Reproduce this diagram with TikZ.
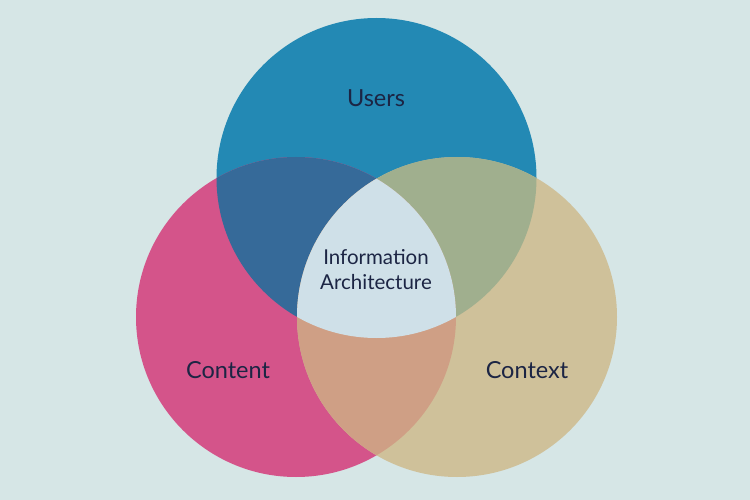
\documentclass[tikz,border=0pt]{standalone}
\usepackage{fontspec}
\setmainfont{Lato}
\definecolor{bgc}{HTML}{D6E6E6}
\definecolor{usersc}{HTML}{2389B4}
\definecolor{contentc}{HTML}{D4548A}
\definecolor{contextc}{HTML}{CFC19A}
\definecolor{ucon}{HTML}{366A99}
\definecolor{uctx}{HTML}{A0AF8E}
\definecolor{cc}{HTML}{CF9F85}
\definecolor{allc}{HTML}{CFE0E8}
\definecolor{txt}{HTML}{1C2544}
\begin{document}
\begin{tikzpicture}[x=1pt,y=-1pt,
  lbl/.style={text=txt,font=\fontsize{23.5}{26}\selectfont,inner sep=0pt},
  clbl/.style={text=txt,font=\fontsize{20.5}{25}\selectfont,inner sep=0pt,align=center}]
\fill[bgc] (0,0) rectangle (750,500);
\useasboundingbox (0,0) rectangle (750,500);
\coordinate (U) at (376.5,178);
\coordinate (L) at (296,317);
\coordinate (R) at (457,317);
\def\rr{160}
\fill[usersc] (U) circle[radius=\rr];
\fill[contentc] (L) circle[radius=\rr];
\fill[contextc] (R) circle[radius=\rr];
\begin{scope}
  \clip (U) circle[radius=\rr];
  \fill[ucon] (L) circle[radius=\rr];
  \fill[uctx] (R) circle[radius=\rr];
\end{scope}
\begin{scope}
  \clip (L) circle[radius=\rr];
  \fill[cc] (R) circle[radius=\rr];
  \clip (R) circle[radius=\rr];
  \fill[allc] (U) circle[radius=\rr];
\end{scope}
\node[lbl] (users) at (376,98) {Users};
\node[lbl] (content) at (228,370) {Content};
\node[lbl] (context) at (527,370) {Context};
\node[clbl] (ia) at (376,270) {Information\\Architecture};
\end{tikzpicture}
\end{document}
